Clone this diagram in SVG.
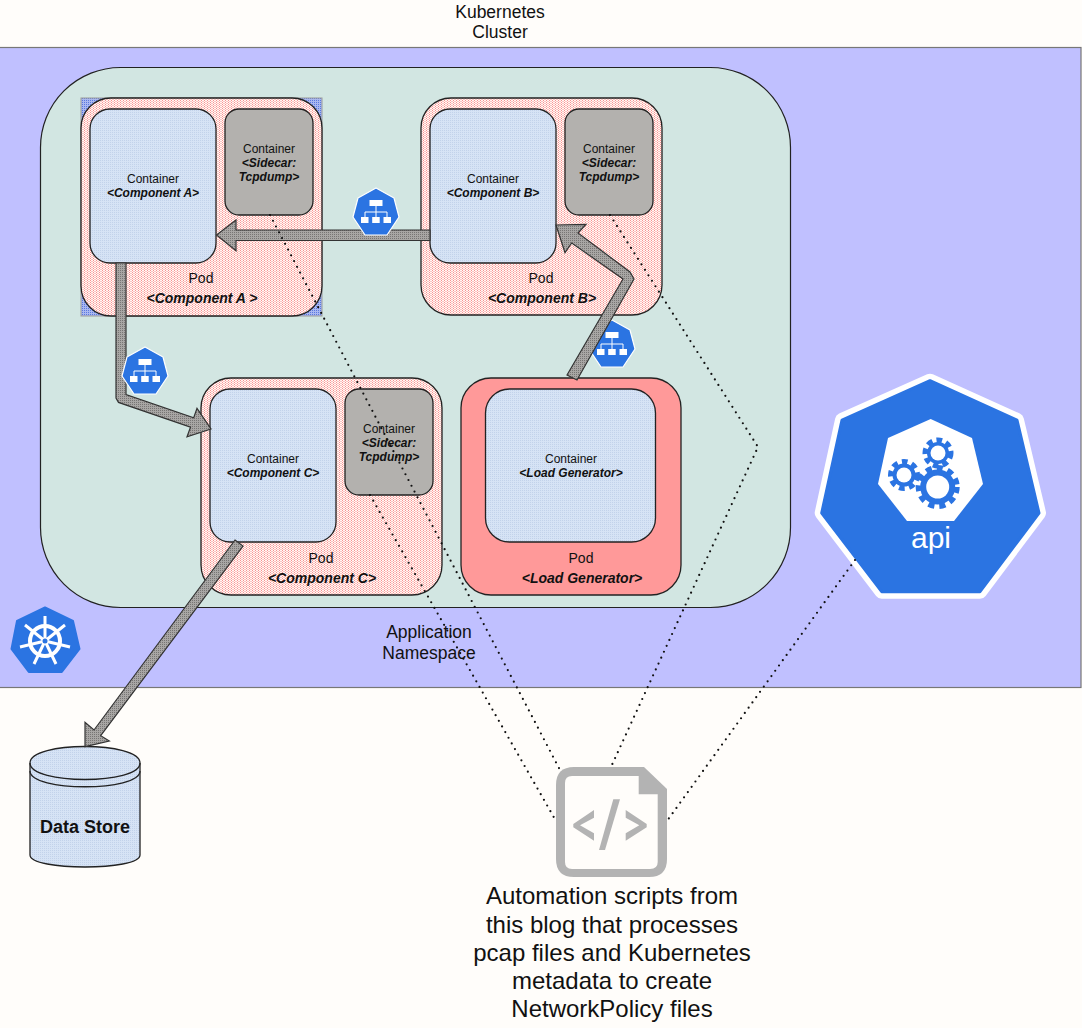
<svg xmlns="http://www.w3.org/2000/svg" xmlns:xlink="http://www.w3.org/1999/xlink" width="1082" height="1028" viewBox="0 0 1082 1028">
<style>
text{font-family:"Liberation Sans",Arial,sans-serif;fill:#111;text-anchor:middle}
.c{font-size:12px}
.ci{font-size:12px;font-weight:bold;font-style:italic}
.p{font-size:14px}
.pi{font-size:14px;font-weight:bold;font-style:italic}
.big{font-size:17.500px}
.huge{font-size:24px}
.pod{fill:url(#pink);stroke:#222;stroke-width:1.300}
.con{fill:url(#blue);stroke:#222;stroke-width:1.300}
.side{fill:#b3b1ae;stroke:#222;stroke-width:1.300}
.arrow{fill:url(#grey);stroke:#333;stroke-width:1.200;stroke-linejoin:miter}
.dot{fill:none;stroke:#111;stroke-width:2.200;stroke-linecap:round;stroke-dasharray:0 6.500}
.kblue{fill:#2b74e2}
</style>
<defs>
<pattern id="pink" width="3" height="2" patternUnits="userSpaceOnUse"><rect width="3" height="2" fill="#fff8f4"/><rect width="1" height="1" fill="#fb9090"/><rect x="1.500" y="1" width="1" height="1" fill="#fb9090"/></pattern>
<pattern id="blue" width="2" height="2" patternUnits="userSpaceOnUse"><rect width="2" height="2" fill="#d6e3f5"/><rect width="1" height="1" fill="#c2d2ea"/></pattern>
<pattern id="grey" width="2" height="2" patternUnits="userSpaceOnUse"><rect width="2" height="2" fill="#a8a6a4"/><rect width="1" height="1" fill="#777574"/></pattern>
<pattern id="sel" width="2" height="2" patternUnits="userSpaceOnUse"><rect width="2" height="2" fill="#aab8f0"/><rect width="1" height="1" fill="#5a78e0"/></pattern>
<g id="svcIcon">
<polygon points="0,-24 18,-14 23,5 11,23 -11,23 -23,5 -18,-14" fill="#2b74e2" stroke="#fff" stroke-width="1.200" stroke-linejoin="round"/>
<g fill="#fff"><rect x="-6.500" y="-12" width="13" height="6"/><rect x="-15" y="5" width="7.500" height="6"/><rect x="-3.800" y="5" width="7.500" height="6"/><rect x="7.500" y="5" width="7.500" height="6"/></g>
<path d="M0-6V5M-11 5V0H11V5" fill="none" stroke="#fff" stroke-width="1"/>
</g>
</defs>
<rect width="1082" height="1028" fill="#fffdfa"/>
<g id="cluster"><rect x="-1" y="47.500" width="1082" height="640" fill="#c0c0ff" stroke="#777" stroke-width="1.200"/>
<text class="big" x="500" y="18">Kubernetes</text><text class="big" x="500" y="38">Cluster</text></g>
<g id="namespace"><rect x="40.500" y="67.500" width="750" height="540" rx="80" fill="#d2e6e2" stroke="#222" stroke-width="1.200"/>
<text class="big" x="429" y="638">Application</text><text class="big" x="429" y="659">Namespace</text></g>
<g id="k8s-icon"><polygon points="45,607.500 73,621 79.500,649 61.800,672 28.800,672 11.500,649 17,621" class="kblue" stroke="#2b74e2" stroke-width="2" stroke-linejoin="round"/>
<circle cx="45" cy="641" r="15" fill="none" stroke="#fff" stroke-width="4"/>
<path d="M45 641V616M45 641L65 625M45 641L70 647M45 641L56 664M45 641L34 664M45 641L20 647M45 641L25 625" stroke="#fff" stroke-width="3"/>
<circle cx="45" cy="641" r="2.500" class="kblue"/></g>
<g id="pod-a"><rect x="81" y="98" width="241" height="218" fill="url(#sel)" stroke="#999" stroke-width="1"/>
<rect x="81" y="98" width="241" height="218" rx="30" class="pod"/>
<text class="p" x="201" y="283">Pod</text><text class="pi" x="202" y="303">&lt;Component A &gt;</text></g>
<g id="container-a"><rect x="90" y="109" width="126" height="154" rx="20" class="con"/>
<text class="c" x="153" y="183">Container</text><text class="ci" x="153" y="197">&lt;Component A&gt;</text></g>
<g id="sidecar-a"><rect x="225" y="109" width="88" height="106" rx="14" class="side"/>
<text class="c" x="269" y="153">Container</text><text class="ci" x="269" y="167">&lt;Sidecar:</text><text class="ci" x="269" y="181">Tcpdump&gt;</text></g>
<g id="pod-b"><rect x="421" y="98" width="241" height="217" rx="30" class="pod"/>
<text class="p" x="541" y="283">Pod</text><text class="pi" x="542" y="303">&lt;Component B&gt;</text></g>
<g id="container-b"><rect x="430" y="109" width="126" height="154" rx="20" class="con"/>
<text class="c" x="493" y="183">Container</text><text class="ci" x="493" y="197">&lt;Component B&gt;</text></g>
<g id="sidecar-b"><rect x="565" y="109" width="88" height="106" rx="14" class="side"/>
<text class="c" x="609" y="153">Container</text><text class="ci" x="609" y="167">&lt;Sidecar:</text><text class="ci" x="609" y="181">Tcpdump&gt;</text></g>
<g id="pod-c"><rect x="201" y="378" width="241" height="217" rx="30" class="pod"/>
<text class="p" x="321" y="563">Pod</text><text class="pi" x="322" y="583">&lt;Component C&gt;</text></g>
<g id="container-c"><rect x="210" y="389" width="126" height="153" rx="20" class="con"/>
<text class="c" x="273" y="463">Container</text><text class="ci" x="273" y="477">&lt;Component C&gt;</text></g>
<g id="sidecar-c"><rect x="345" y="389" width="88" height="106" rx="14" class="side"/>
<text class="c" x="389" y="433">Container</text><text class="ci" x="389" y="447">&lt;Sidecar:</text><text class="ci" x="389" y="461">Tcpdump&gt;</text></g>
<g id="pod-lg"><rect x="461" y="378" width="220" height="217" rx="30" fill="#ff9999" stroke="#222" stroke-width="1.300"/>
<text class="p" x="581" y="563">Pod</text><text class="pi" x="582" y="583">&lt;Load Generator&gt;</text></g>
<g id="container-lg"><rect x="485.500" y="389" width="170" height="153" rx="24" class="con"/>
<text class="c" x="571" y="463">Container</text><text class="ci" x="571" y="477">&lt;Load Generator&gt;</text></g>
<g id="svc-bc"><use xlink:href="#svcIcon" href="#svcIcon" x="612" y="344"/></g>
<g id="api-server">
<polygon points="930,380.700 1017,420 1039,513 980,591.700 881.700,591.700 821.700,513 842,420" fill="#fff" stroke="#fff" stroke-width="14" stroke-linejoin="round"/>
<polygon points="930,380.700 1017,420 1039,513 980,591.700 881.700,591.700 821.700,513 842,420" class="kblue" stroke="#2b74e2" stroke-width="3" stroke-linejoin="round"/>
<polygon points="930.700,419 972,438 983,484 954,521 907,521 878,484 888,438" fill="#fff"/>
<g class="kblue"><circle cx="937.700" cy="487" r="17.500"/><circle cx="904" cy="475" r="11.500"/><circle cx="938" cy="453" r="11"/></g>
<g fill="none" stroke="#2b74e2" stroke-width="6"><circle cx="937.700" cy="487" r="19" stroke-dasharray="6 5"/><circle cx="904" cy="475" r="13" stroke-dasharray="5.500 4.300"/><circle cx="938" cy="453" r="12.500" stroke-dasharray="5.500 4"/></g>
<g fill="#fff"><circle cx="937.700" cy="487" r="11.500"/><circle cx="904" cy="475" r="7.500"/><circle cx="938" cy="453" r="7.500"/></g>
<text x="931" y="548" style="font-size:30px;fill:#fff">api</text></g>
<g id="data-store"><path d="M30 763C30 741 140 741 140 763V855C140 871 30 871 30 855Z" fill="url(#blue)" stroke="#222" stroke-width="1.300"/>
<path d="M30 763C30 785 140 785 140 763M30 771C30 792 140 792 140 771" fill="none" stroke="#222" stroke-width="1.300"/>
<text x="85" y="833" style="font-size:18px;font-weight:bold">Data Store</text></g>
<g id="automation-scripts"><path d="M556 785Q556 767 574 767H644L667 789V859Q667 877 649 877H574Q556 877 556 859Z" fill="#b3b3b3"/>
<path d="M572 776H638.700V794.300H657.700V862Q657.700 869 650 869H572Q565 869 565 862V783Q565 776 572 776Z" fill="#fffdfa"/>
<polygon points="594,810 573.300,824 573.300,827.300 594,840.700 594,833.300 580,825.300 594,817.700" fill="#b3b3b3"/>
<polygon points="625.700,810 646.700,824 646.700,827.300 625.700,840.700 625.700,833.300 639.300,825.300 625.700,817.700" fill="#b3b3b3"/>
<polygon points="613.300,799.300 620,799.300 605,850 599,850" fill="#b3b3b3"/>
<text class="huge" x="612" y="904">Automation scripts from</text><text class="huge" x="612" y="933">this blog that processes</text><text class="huge" x="612" y="961">pcap files and Kubernetes</text><text class="huge" x="612" y="989">metadata to create</text><text class="huge" x="612" y="1017">NetworkPolicy files</text></g>
<g id="connectors">
<polygon class="arrow" points="430,230 236,230 236,220 216.500,235 236,250.700 236,240.500 430,240.500"/>
<polygon class="arrow" points="116,263 126,263 126,394.500 193.700,417.800 197,408.300 211,429 187,436.700 190.500,427.200 118.500,402.400 116,398"/>
<polygon class="arrow" points="567,375 623,279 571.700,243 565,252.700 556,225 586,224.300 578,233 630,272 634,279 577,380"/>
<polygon class="arrow" points="235,540 243,546 100.700,735.700 109.300,741 85,746.700 85,722.300 94,730"/>
<path class="dot" d="M270 215L560 770"/>
<path class="dot" d="M370 495L556 821"/>
<path class="dot" d="M610 215L758 447L611 767"/>
<path class="dot" d="M855 560L667 821"/>
</g>
<g id="svc-ab"><use xlink:href="#svcIcon" href="#svcIcon" x="376" y="212"/></g>
<g id="svc-ac"><use xlink:href="#svcIcon" href="#svcIcon" x="145" y="371"/></g>
</svg>
